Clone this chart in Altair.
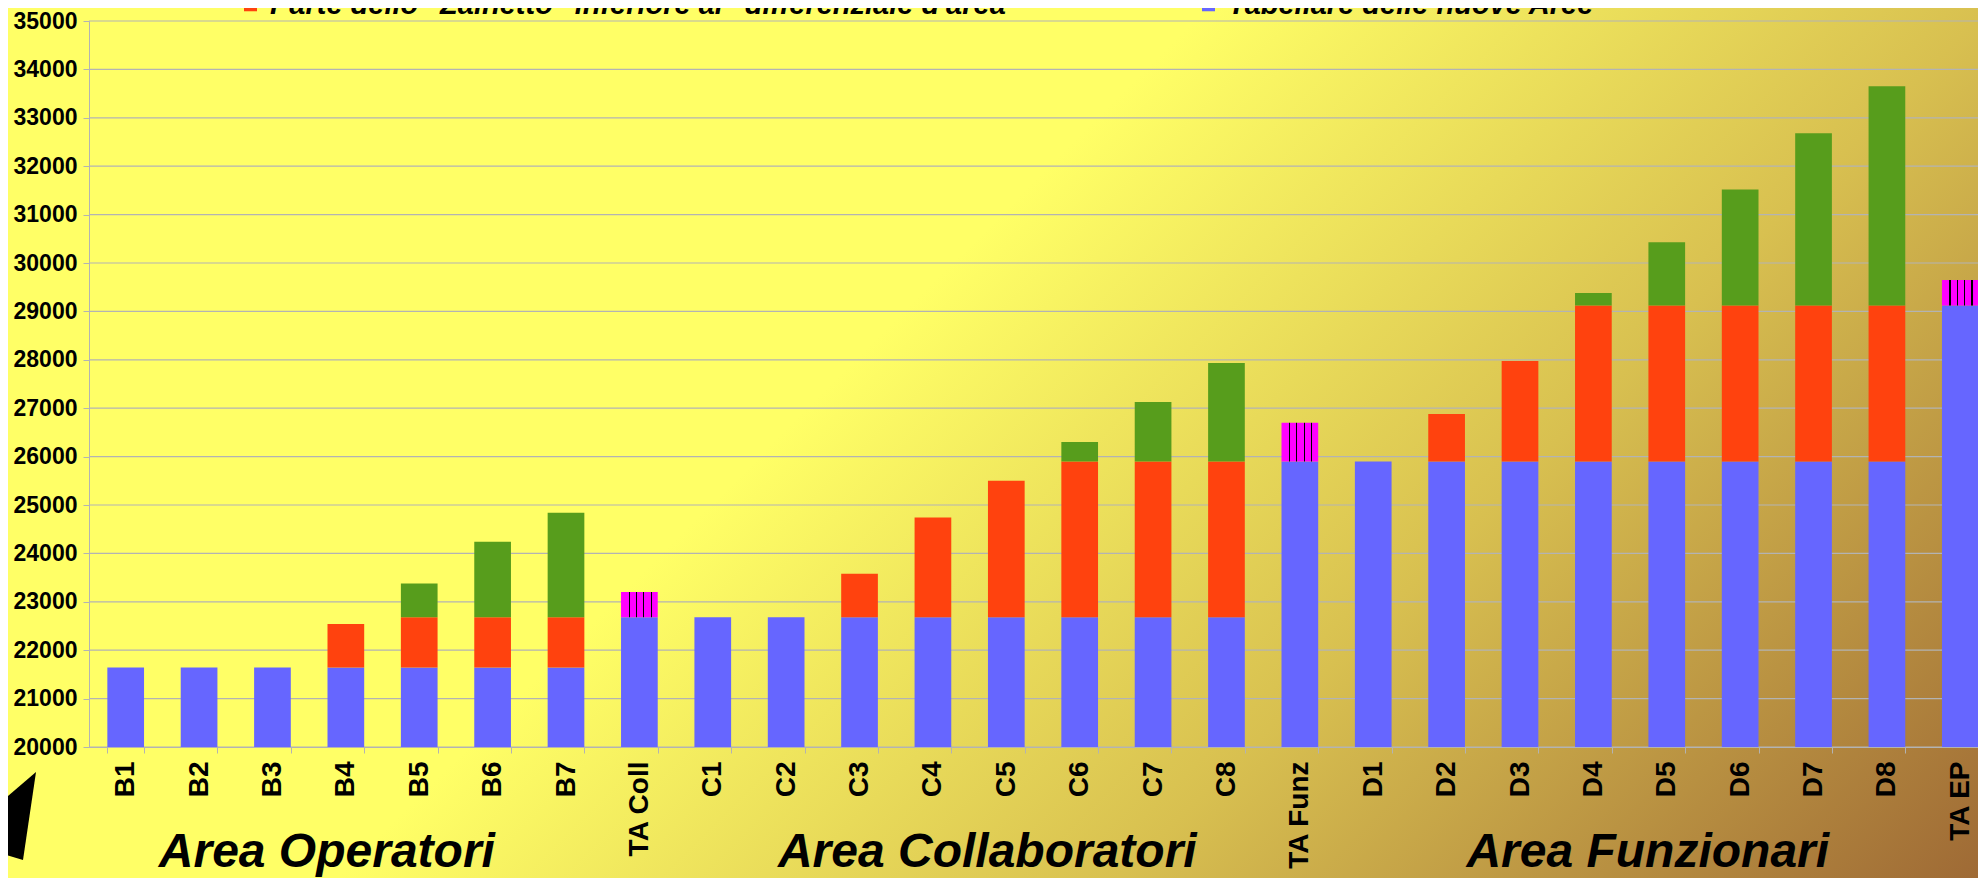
import altair as alt
import pandas as pd

# ---------------- data ----------------
categories = ["B1", "B2", "B3", "B4", "B5", "B6", "B7", "TA Coll",
              "C1", "C2", "C3", "C4", "C5", "C6", "C7", "C8", "TA Funz",
              "D1", "D2", "D3", "D4", "D5", "D6", "D7", "D8", "TA EP"]

# blue: Tabellare delle nuove Aree
tabellare = [21640, 21640, 21640, 21640, 21640, 21640, 21640, 22680,
             22680, 22680, 22680, 22680, 22680, 22680, 22680, 22680, 25900,
             25900, 25900, 25900, 25900, 25900, 25900, 25900, 25900, 29120]
# orange: part of "Zainetto" below the area differential
zainetto_inf = [0, 0, 0, 900, 1040, 1040, 1040, 0,
                0, 0, 900, 2060, 2820, 3220, 3220, 3220, 0,
                0, 980, 2075, 3220, 3220, 3220, 3220, 3220, 0]
# green: part of "Zainetto" above the area differential
zainetto_sup = [0, 0, 0, 0, 700, 1560, 2160, 0,
                0, 0, 0, 0, 0, 400, 1230, 2035, 0,
                0, 0, 0, 260, 1310, 2400, 3560, 4530, 0]
# magenta (striped): TA
ta_extra = [0, 0, 0, 0, 0, 0, 0, 520,
            0, 0, 0, 0, 0, 0, 0, 0, 800,
            0, 0, 0, 0, 0, 0, 0, 0, 530]

series_names = ["Tabellare delle nuove Aree",
                "Parte dello \"Zainetto\" inferiore al \"differenziale d'area\"",
                "Parte dello \"Zainetto\" superiore al \"differenziale d'area\""]
series_colors = ["#6666FF", "#FF420E", "#579D1C"]

y_ticks = [20000, 21000, 22000, 23000, 24000, 25000, 26000, 27000,
           28000, 29000, 30000, 31000, 32000, 33000, 34000, 35000]

group_labels = ["Area Operatori", "Area Collaboratori", "Area Funzionari"]
group_anchor = ["B4", "C5", "D5"]

# ---------------- tables ----------------
rows = []
for i, c in enumerate(categories):
    for k, vals in enumerate([tabellare, zainetto_inf, zainetto_sup]):
        rows.append({"cat": c, "series": series_names[k], "value": vals[i], "ord": k})
df_bars = pd.DataFrame(rows)

df_ta = pd.DataFrame({"cat": categories,
                      "base": tabellare,
                      "top": [t + e for t, e in zip(tabellare, ta_extra)],
                      "extra": ta_extra})
df_ta = df_ta[df_ta["extra"] > 0]

df_grid = pd.DataFrame({"v": y_ticks})
df_groups = pd.DataFrame({"cat": group_anchor, "label": group_labels})
df_one = pd.DataFrame({"a": [0]})

W, H = 1908, 726
FONT = "Liberation Sans"
GRID = "#B3B3B3"

yscale = alt.Scale(domain=[20000, 35000], zero=False, nice=False, clamp=True)
xscale = alt.Scale(domain=categories, paddingInner=0.5, paddingOuter=0.25)

x_axis = alt.Axis(title=None, labelAngle=-90, labelFont=FONT, labelFontSize=28,
                  labelFontWeight="bold", labelColor="black", labelPadding=8,
                  tickSize=6, tickColor=GRID, domainColor=GRID, tickBand="extent",
                  labelLimit=400, grid=False, zindex=1)
y_axis = alt.Axis(title=None, values=y_ticks, format="d", labelFont=FONT,
                  labelFontSize=23, labelFontWeight="bold", labelColor="black",
                  labelPadding=6, tickSize=6, tickColor=GRID, domainColor=GRID,
                  grid=False, zindex=1)

# background gradient (diagonal, 45 deg in pixels)
bg = alt.Chart(df_one).mark_rect(
    clip=False,
    fill=alt.Gradient(
        gradient="linear",
        x1=0, y1=0, x2=1.2063, y2=0.5333,
        stops=[alt.GradientStop(color="#FFFF66", offset=0.0),
               alt.GradientStop(color="#FFFF66", offset=0.42),
               alt.GradientStop(color="#D8C050", offset=0.69),
               alt.GradientStop(color="#9C6634", offset=1.0)]),
    strokeWidth=0,
).encode(x=alt.value(-89), x2=alt.value(W + 10), y=alt.value(-21), y2=alt.value(H + 140))

grid = alt.Chart(df_grid).mark_rule(color=GRID, strokeWidth=1.2).encode(
    y=alt.Y("v:Q", scale=yscale, axis=y_axis),
    x=alt.value(0), x2=alt.value(W))

bars = alt.Chart(df_bars).mark_bar(clip=True).encode(
    x=alt.X("cat:N", scale=xscale, sort=categories, axis=x_axis),
    y=alt.Y("sum(value):Q", scale=yscale, stack="zero", axis=y_axis),
    color=alt.Color("series:N",
                    scale=alt.Scale(domain=series_names, range=series_colors),
                    legend=alt.Legend(orient="none", legendX=147, legendY=-31,
                                      direction="horizontal", title=None,
                                      values=[series_names[1], series_names[0]],
                                      labelFont=FONT, labelFontSize=29,
                                      labelFontWeight="bold", labelFontStyle="italic",
                                      labelColor="black", symbolType="square",
                                      symbolSize=170, symbolStrokeWidth=0,
                                      labelOffset=5, columnPadding=174,
                                      labelLimit=2000, padding=0)),
    order=alt.Order("ord:Q"),
)

stripes = [alt.GradientStop(color="#FF00FF", offset=0.0)]
for c in [0.22, 0.42, 0.62, 0.82]:
    stripes += [alt.GradientStop(color="#FF00FF", offset=c - 0.015),
                alt.GradientStop(color="#000000", offset=c - 0.015),
                alt.GradientStop(color="#000000", offset=c + 0.015),
                alt.GradientStop(color="#FF00FF", offset=c + 0.015)]
stripes.append(alt.GradientStop(color="#FF00FF", offset=1.0))

ta = alt.Chart(df_ta).mark_bar(
    clip=True,
    fill=alt.Gradient(gradient="linear", x1=0, y1=0, x2=1, y2=0, stops=stripes),
    strokeWidth=0,
).encode(
    x=alt.X("cat:N", scale=xscale, sort=categories, axis=x_axis),
    y=alt.Y("base:Q", scale=yscale, axis=y_axis),
    y2="top:Q",
)

groups = alt.Chart(df_groups).mark_text(
    font=FONT, fontSize=48, fontWeight="bold", fontStyle="italic",
    color="black", align="center", baseline="alphabetic", dx=-19,
).encode(
    x=alt.X("cat:N", scale=xscale, sort=categories, axis=x_axis),
    y=alt.value(H + 120),
    text="label:N",
)

arrow = alt.Chart(df_one).mark_point(
    shape="M0,0 L-50,43 L-50,77 L-13,88 Z", size=4, filled=True,
    color="black", opacity=1, strokeWidth=0,
).encode(x=alt.value(-53), y=alt.value(751))

chart = alt.layer(bg, grid, bars, ta, groups, arrow).properties(
    width=W, height=H,
    autosize=alt.AutoSizeParams(type="none"),
    padding={"left": 81, "top": 13, "right": -19, "bottom": 131},
    background="#FFFF66",
).configure_view(stroke=None)

chart.save("out.html", embed_options={"renderer": "svg", "actions": False})
